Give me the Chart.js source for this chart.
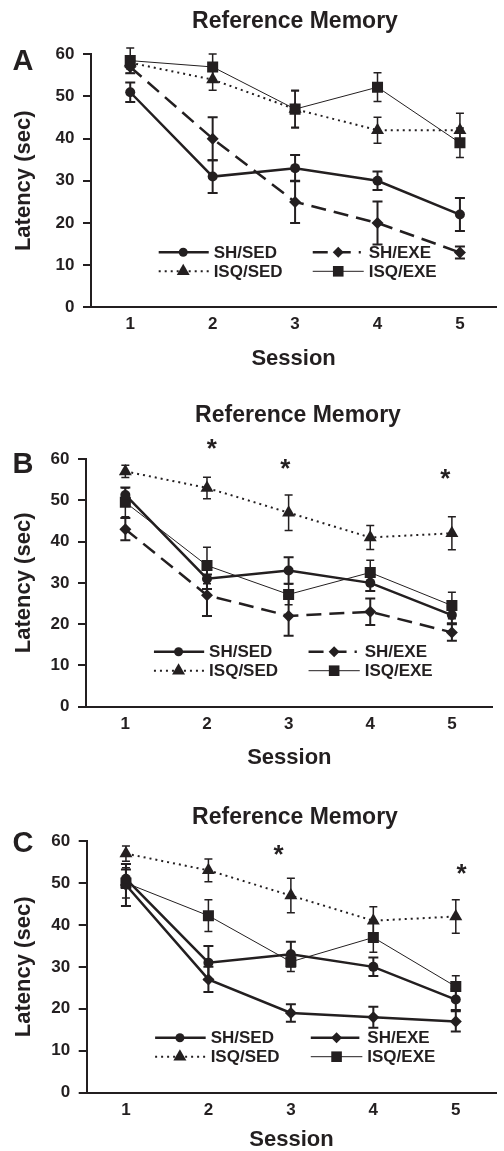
<!DOCTYPE html>
<html>
<head>
<meta charset="utf-8">
<script src="https://cdn.jsdelivr.net/npm/chart.js@4.4.0/dist/chart.umd.min.js"></script>
<style>
  html, body { margin: 0; padding: 0; background: #fff; }
  body { width: 504px; height: 1151px; position: relative; overflow: hidden; }
  canvas { position: absolute; left: 0; }
</style>
</head>
<body>
<canvas id="chartA" width="504" height="375" style="top:0px"></canvas>
<canvas id="chartB" width="504" height="395" style="top:375px"></canvas>
<canvas id="chartC" width="504" height="381" style="top:770px"></canvas>
<script>
const ink = '#231f20';
const FONT = '"Liberation Sans", Arial, Helvetica, sans-serif';

const sessions = [1, 2, 3, 4, 5];
const sessionLabels = ['1', '2', '3', '4', '5'];
const yTicks = [0, 10, 20, 30, 40, 50, 60];
const groupNames = ['SH/SED', 'SH/EXE', 'ISQ/SED', 'ISQ/EXE'];

// panel A
const shSedA = [51, 31, 33, 30, 22];
const shSedErrA = [2.3, 3.9, 3.1, 2.2, 3.9];
const shExeA = [57, 40, 25, 20, 13];
const shExeErrA = [1.5, 5.1, 5, 5.1, 1.4];
const isqSedA = [58, 54, 47, 42, 42];
const isqSedErrA = [1.5, 2.5, 4.3, 3.1, 4];
const isqExeA = [58.5, 57, 47, 52.2, 39];
const isqExeErrA = [3, 3.1, 4.5, 3.4, 3.5];

// panel B
const shSedB = [51.3, 31, 33, 30, 22.2];
const shSedErrB = [1.8, 2.5, 3.2, 2, 2];
const shExeB = [43, 27, 22, 23, 18];
const shExeErrB = [2.7, 5, 4.8, 3.2, 2];
const isqSedB = [57, 53, 47, 41, 42];
const isqSedErrB = [1.5, 2.6, 4.3, 2.9, 4];
const isqExeB = [49.5, 34.2, 27.2, 32.5, 24.5];
const isqExeErrB = [3.5, 4.4, 2.5, 3, 3.2];
const starSessionsB = [2.06, 2.96, 4.92];
const starHeightsB = [64.2, 59.3, 56.9];

// panel C
const shSedC = [51, 31, 33, 30, 22.2];
const shSedErrC = [2.2, 4, 3, 2.2, 2.5];
const shExeC = [49.5, 27, 19, 18, 17];
const shExeErrC = [5, 3, 2.1, 2.5, 2.4];
const isqSedC = [57, 53, 47, 41, 42];
const isqSedErrC = [1.8, 2.7, 4.1, 3.3, 4];
const isqExeC = [50, 42.2, 31.2, 37, 25.3];
const isqExeErrC = [3.6, 3.8, 2.3, 3.5, 2.6];
const starSessionsC = [2.85, 5.07];
const starHeightsC = [58.3, 53.9];

const styles = {
  'SH/SED': { width: 2.5, dash: [], point: 'circle', radius: 5, legendRadius: 4.5, errWidth: 2, cap: 5 },
  'SH/EXE': { width: 2.5, dash: [15, 8], point: 'rectRot', radius: 6, legendRadius: 5.5, errWidth: 2, cap: 5 },
  'ISQ/SED': { width: 2, dash: [2, 4], point: 'triangle', radius: 7.5, legendRadius: 7.5, errWidth: 1.5, cap: 4 },
  'ISQ/EXE': { width: 1, dash: [], point: 'rect', radius: 7.8, legendRadius: 7.5, errWidth: 1.5, cap: 4 }
};

function marker(ctx, style, r, x, y) {
  ctx.beginPath();
  if (style === 'circle') {
    ctx.arc(x, y, r, 0, Math.PI * 2);
  } else if (style === 'rectRot') {
    ctx.moveTo(x, y - r); ctx.lineTo(x + r, y); ctx.lineTo(x, y + r); ctx.lineTo(x - r, y);
  } else if (style === 'triangle') {
    ctx.moveTo(x, y - r);
    ctx.lineTo(x + r * Math.sin(Math.PI * 2 / 3), y - r * Math.cos(Math.PI * 2 / 3));
    ctx.lineTo(x + r * Math.sin(Math.PI * 4 / 3), y - r * Math.cos(Math.PI * 4 / 3));
  } else {
    const s = r * Math.SQRT1_2;
    ctx.rect(x - s, y - s, 2 * s, 2 * s);
  }
  ctx.closePath();
  ctx.fill();
}

function makePanel(id, cfg) {
  const datasets = cfg.series.map(s => {
    const st = styles[s.name];
    return {
      label: s.name,
      data: sessions.map((x, i) => ({ x: x, y: s.values[i] })),
      errs: s.errs,
      borderColor: ink,
      backgroundColor: ink,
      borderWidth: st.width,
      borderDash: s.dash || st.dash,
      pointStyle: st.point,
      pointRadius: st.radius,
      pointHoverRadius: st.radius,
      pointBackgroundColor: ink,
      pointBorderWidth: 0,
      tension: 0,
      fill: false
    };
  });

  // error bars (mean +/- SEM) drawn under the markers
  const errorBars = {
    id: 'errorBars',
    beforeDatasetsDraw(chart) {
      const ctx = chart.ctx;
      const y = chart.scales.y;
      ctx.save();
      ctx.strokeStyle = ink;
      chart.data.datasets.forEach((ds, i) => {
        const st = styles[ds.label];
        const meta = chart.getDatasetMeta(i);
        ctx.lineWidth = st.errWidth;
        meta.data.forEach((pt, j) => {
          const v = ds.data[j].y, e = ds.errs[j];
          const top = y.getPixelForValue(v + e);
          const bot = y.getPixelForValue(v - e);
          ctx.beginPath();
          ctx.moveTo(pt.x, top); ctx.lineTo(pt.x, bot);
          ctx.moveTo(pt.x - st.cap, top); ctx.lineTo(pt.x + st.cap, top);
          ctx.moveTo(pt.x - st.cap, bot); ctx.lineTo(pt.x + st.cap, bot);
          ctx.stroke();
        });
      });
      ctx.restore();
    }
  };

  // title, panel letter, asterisks and the two-column legend
  const decor = {
    id: 'decor',
    afterDraw(chart) {
      const ctx = chart.ctx;
      const a = chart.chartArea;
      const xs = chart.scales.x, ys = chart.scales.y;
      ctx.save();
      ctx.fillStyle = ink;
      ctx.textAlign = 'center';
      ctx.textBaseline = 'alphabetic';
      ctx.font = 'bold 23px ' + FONT;
      ctx.fillText('Reference Memory', cfg.titleX, cfg.titleBase);
      ctx.font = 'bold 29px ' + FONT;
      ctx.fillText(cfg.letter, 23, cfg.letterBase);

      ctx.font = 'bold 26px ' + FONT;
      cfg.stars.forEach((s, i) => {
        ctx.fillText('*', xs.getPixelForValue(s), ys.getPixelForValue(cfg.starHeights[i]) + 15);
      });

      const k = a.width / 413;
      const rows = [a.bottom - 55, a.bottom - 36];
      const cols = [
        { x0: 69, x1: 120, m: 94, t: 125 },
        { x0: 226, x1: 275, m: 252, t: 283 }
      ];
      ctx.font = 'bold 17px ' + FONT;
      ctx.textAlign = 'left';
      ctx.textBaseline = 'middle';
      chart.data.datasets.forEach((ds, i) => {
        const st = styles[ds.label];
        const c = cols[i % 2];
        const y = rows[Math.floor(i / 2)];
        const x1 = ds.label === 'ISQ/EXE' ? c.x1 + 3 : c.x1;
        ctx.strokeStyle = ink;
        ctx.lineWidth = st.width;
        ctx.setLineDash(ds.borderDash);
        ctx.beginPath();
        ctx.moveTo(a.left + c.x0 * k, y);
        ctx.lineTo(a.left + x1 * k, y);
        ctx.stroke();
        ctx.setLineDash([]);
        marker(ctx, st.point, st.legendRadius, a.left + c.m * k, y);
        ctx.fillText(ds.label, a.left + c.t * k, y + 1);
      });
      ctx.restore();
    }
  };

  new Chart(document.getElementById(id), {
    type: 'line',
    data: { datasets: datasets },
    options: {
      responsive: false,
      animation: false,
      events: [],
      layout: { padding: { top: cfg.top, right: cfg.padRight, left: 0, bottom: 0 } },
      plugins: { legend: { display: false }, tooltip: { enabled: false }, title: { display: false } },
      scales: {
        x: {
          type: 'linear',
          min: cfg.xMin,
          max: cfg.xMax,
          afterBuildTicks: s => { s.ticks = sessions.map(v => ({ value: v })); },
          afterFit: s => { s.height = cfg.xHeight; },
          ticks: {
            color: ink,
            padding: 7,
            font: { family: FONT, size: 17, weight: 'bold' },
            callback: v => sessionLabels[sessions.indexOf(v)]
          },
          grid: { display: false, drawTicks: false },
          border: { display: true, color: ink, width: 2 },
          title: {
            display: true, text: 'Session', color: ink,
            font: { family: FONT, size: 22, weight: 'bold', lineHeight: 1 },
            padding: { top: 0, bottom: cfg.sessionPad }
          }
        },
        y: {
          min: 0,
          max: 60,
          afterBuildTicks: s => { s.ticks = yTicks.map(v => ({ value: v })); },
          afterFit: s => { s.width = cfg.left; },
          ticks: { color: ink, padding: 8.5, font: { family: FONT, size: 17, weight: 'bold' } },
          grid: { drawOnChartArea: false, drawTicks: true, tickLength: 8, color: ink, lineWidth: 2 },
          border: { display: true, color: ink, width: 2 },
          title: {
            display: true, text: 'Latency (sec)', color: ink,
            font: { family: FONT, size: 22, weight: 'bold', lineHeight: 1 },
            padding: { top: 13, bottom: 0 }
          }
        }
      }
    },
    plugins: [errorBars, decor]
  });
}

makePanel('chartA', {
  letter: 'A', titleX: 295, titleBase: 28, letterBase: 70,
  top: 54.3, left: 91, padRight: 0, xHeight: 67.7, xMin: 0.524, xMax: 5.44, sessionPad: 5,
  stars: [], starHeights: [],
  series: [
    { name: groupNames[0], values: shSedA, errs: shSedErrA },
    { name: groupNames[1], values: shExeA, errs: shExeErrA },
    { name: groupNames[2], values: isqSedA, errs: isqSedErrA },
    { name: groupNames[3], values: isqExeA, errs: isqExeErrA }
  ]
});

makePanel('chartB', {
  letter: 'B', titleX: 298, titleBase: 46.7, letterBase: 97.7,
  top: 84, left: 86, padRight: 11.3, xHeight: 63.3, xMin: 0.518, xMax: 5.5, sessionPad: 1,
  stars: starSessionsB, starHeights: starHeightsB,
  series: [
    { name: groupNames[0], values: shSedB, errs: shSedErrB },
    { name: groupNames[1], values: shExeB, errs: shExeErrB },
    { name: groupNames[2], values: isqSedB, errs: isqSedErrB },
    { name: groupNames[3], values: isqExeB, errs: isqExeErrB }
  ]
});

makePanel('chartC', {
  letter: 'C', titleX: 295, titleBase: 54, letterBase: 81.7,
  top: 71, left: 86.7, padRight: 0, xHeight: 58.3, xMin: 0.524, xMax: 5.49, sessionPad: 0,
  stars: starSessionsC, starHeights: starHeightsC,
  series: [
    { name: groupNames[0], values: shSedC, errs: shSedErrC },
    { name: groupNames[1], values: shExeC, errs: shExeErrC, dash: [] },
    { name: groupNames[2], values: isqSedC, errs: isqSedErrC },
    { name: groupNames[3], values: isqExeC, errs: isqExeErrC }
  ]
});
</script>
</body>
</html>
